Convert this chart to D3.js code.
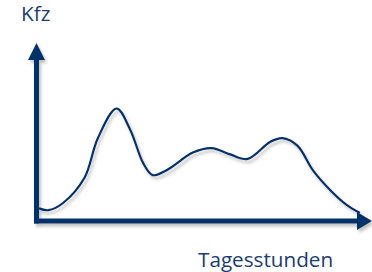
<!DOCTYPE html>
<html>
<head>
<meta charset="utf-8">
<script src="https://cdn.jsdelivr.net/npm/d3@7"></script>
<style>
  body { margin: 0; background: #fff; }
  svg text { font-family: "Open Sans", "DejaVu Sans", sans-serif; fill: #1d3d6b; }
</style>
</head>
<body>
<svg id="chart" width="372" height="272"></svg>
<script>
// traffic volume over the day (arbitrary units)
var hours = [0, 0.7, 1.8, 3.4, 4.4, 5.8, 6.8, 7.8, 8.5, 9.6, 11.5, 12.9, 14.3, 15.6, 17.3, 18.2, 19.3, 20.5, 21.8, 23.0, 24];
var kfz   = [7, 6, 10, 24, 46, 62.5, 51, 32, 25.5, 28.5, 38, 40.5, 37, 34.5, 44, 46, 42, 28, 17, 9, 4.5];
var yLabel = "Kfz";
var xLabel = "Tagesstunden";

var navy = "#06306a";

var svg = d3.select("#chart"),
    margin = { top: 41, right: 12, bottom: 51, left: 39 },
    width = +svg.attr("width") - margin.left - margin.right,
    height = +svg.attr("height") - margin.top - margin.bottom;

var x = d3.scaleLinear().domain([0, 24]).range([margin.left, margin.left + width]),
    y = d3.scaleLinear().domain([0, 100]).range([margin.top + height, margin.top]);

var defs = svg.append("defs");
var f = defs.append("filter").attr("id", "shadow")
    .attr("x", "-20%").attr("y", "-20%").attr("width", "140%").attr("height", "140%");
f.append("feDropShadow")
    .attr("dx", 2).attr("dy", 3)
    .attr("stdDeviation", 1.8)
    .attr("flood-color", "#777")
    .attr("flood-opacity", 0.45);

var g = svg.append("g").attr("filter", "url(#shadow)");

// curve
var line = d3.line()
    .x(function(d, i) { return x(hours[i]); })
    .y(function(d) { return y(d); })
    .curve(d3.curveCatmullRom.alpha(0.5));

g.append("path")
    .datum(kfz)
    .attr("d", line)
    .attr("fill", "none")
    .attr("stroke", navy)
    .attr("stroke-width", 2.2);

// axes with arrow heads
var x0 = x(0) - 2.5, y0 = y(0);
var yTop = y(100) + 2, xEnd = x(24) + 12;

g.append("line")
    .attr("x1", x0).attr("y1", y0 + 2.5)
    .attr("x2", x0).attr("y2", yTop + 15)
    .attr("stroke", navy).attr("stroke-width", 5);
g.append("path")
    .attr("d", "M" + x0 + "," + yTop + "L" + (x0 + 8.5) + "," + (yTop + 17) + "L" + (x0 - 8.5) + "," + (yTop + 17) + "Z")
    .attr("fill", navy);

g.append("line")
    .attr("x1", x0 - 2.5).attr("y1", y0)
    .attr("x2", xEnd - 14).attr("y2", y0)
    .attr("stroke", navy).attr("stroke-width", 5);
g.append("path")
    .attr("d", "M" + xEnd + "," + y0 + "L" + (xEnd - 15) + "," + (y0 - 9) + "L" + (xEnd - 15) + "," + (y0 + 9) + "Z")
    .attr("fill", navy);

// labels
svg.append("text")
    .attr("x", 21).attr("y", 21)
    .attr("font-size", 20.7)
    .text(yLabel);

svg.append("text")
    .attr("x", 198).attr("y", 267)
    .attr("font-size", 20.7)
    .text(xLabel);
</script>
</body>
</html>
